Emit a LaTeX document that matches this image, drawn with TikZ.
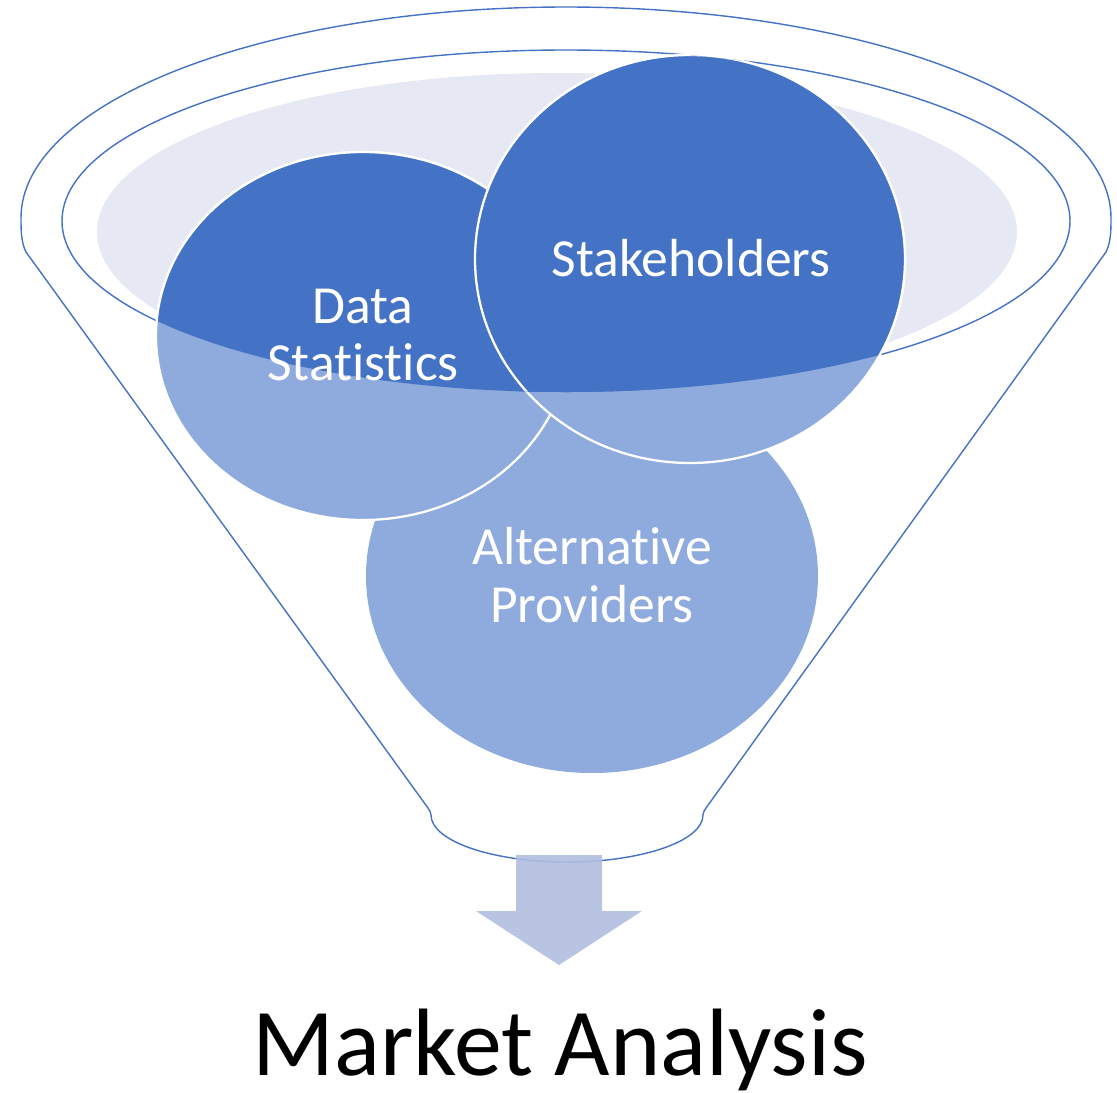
\documentclass[tikz,border=0pt]{standalone}
\usepackage{fontspec}
\setmainfont{Carlito}[Ligatures=NoCommon]
\begin{document}
\begin{tikzpicture}[x=0.02cm,y=-0.02cm,
  funnelline/.style={draw={rgb,255:red,68;green,114;blue,196}, line width=0.8pt},
  bubble/.style={draw=white, line width=1.3pt},
  lbl/.style={text=white, align=center, font=\fontsize{30.5}{33}\selectfont, inner sep=0pt}]
\definecolor{darkb}{RGB}{68,114,196}
\definecolor{lightb}{RGB}{143,170,220}
\definecolor{lav}{RGB}{230,233,244}
\definecolor{arrowc}{RGB}{176,190,223}
\useasboundingbox (0,0) rectangle (1117,1093);
% funnel outline
\draw[funnelline] (26,252) .. controls (21,242) and (21,230) .. (21,218)
  arc[start angle=180, end angle=360, x radius=545, y radius=211]
  .. controls (1111,230) and (1111,242) .. (1106,252)
  -- (706,808) .. controls (704,811) and (703,813) .. (703,815)
  arc[start angle=0, end angle=180, x radius=136, y radius=47]
  .. controls (431,813) and (430,811) .. (428,808) -- cycle;
% interior
\fill[lav] (557,232) ellipse [x radius=460, y radius=159];
\draw[funnelline] (566,221) ellipse [x radius=504, y radius=171];
% bubbles, front (light) layer
\fill[lightb] (592,576) ellipse [x radius=226, y radius=197];
\draw[bubble, fill=lightb] (363,336) ellipse [x radius=207, y radius=184];
\draw[bubble, fill=lightb] (690,259) ellipse [x radius=215, y radius=204];
% bubbles inside the rim (dark)
\begin{scope}
  \clip (566,221) ellipse [x radius=504, y radius=171];
  \fill[darkb] (592,576) ellipse [x radius=226, y radius=197];
  \draw[bubble, fill=darkb] (363,336) ellipse [x radius=207, y radius=184];
  \draw[bubble, fill=darkb] (690,259) ellipse [x radius=215, y radius=204];
\end{scope}
% arrow
\fill[arrowc, fill opacity=0.9] (516,855) -- (602,855) -- (602,911) -- (642,911)
  -- (559,965) -- (476,911) -- (516,911) -- cycle;
% labels
\node[lbl] (ds) at (363,335) {Data\\Statistics};
\node[lbl] (sh) at (691,258) {Stakeholders};
\node[lbl] (ap) at (592,575) {Alternative\\Providers};
\node[anchor=base, inner sep=0pt, font=\fontsize{54.5}{60}\selectfont] (ma) at (560,1075) {Market Analysis};
\end{tikzpicture}
\end{document}
